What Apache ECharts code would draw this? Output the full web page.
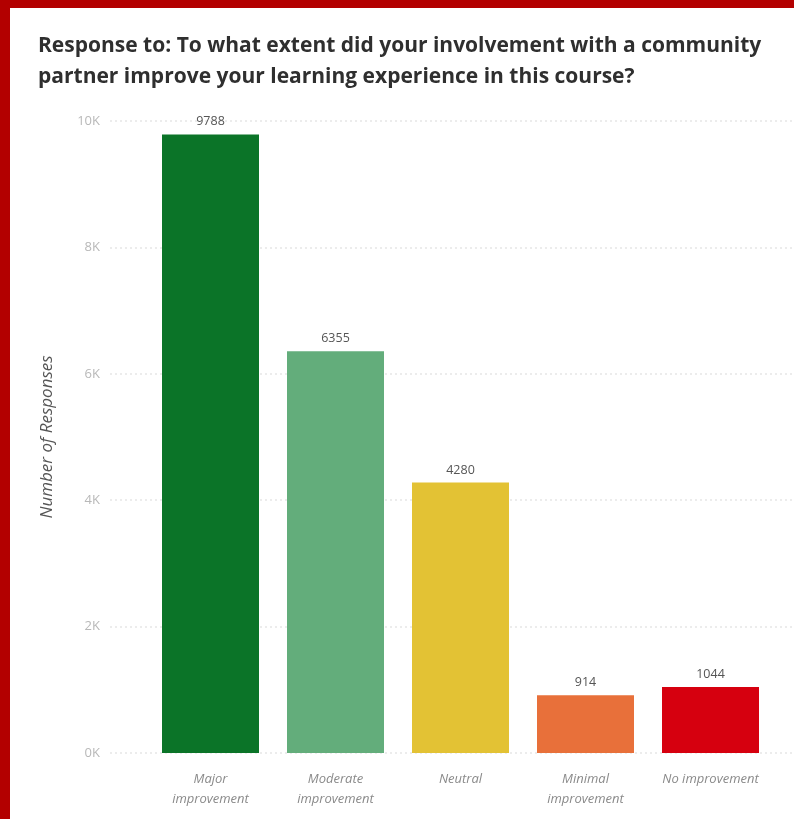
<!DOCTYPE html>
<html>
<head>
<meta charset="utf-8">
<script src="https://cdn.jsdelivr.net/npm/echarts@6/dist/echarts.min.js"></script>
<style>
  html, body { margin: 0; padding: 0; background: #ffffff; }
  #chart { width: 794px; height: 819px; }
</style>
</head>
<body>
<div id="chart"></div>
<script>
// Survey responses per improvement level
const categories = ['Major\nimprovement', 'Moderate\nimprovement', 'Neutral', 'Minimal\nimprovement', 'No improvement'];
const responses = [9788, 6355, 4280, 914, 1044];
const barColors = ['#0b7428', '#63ad7b', '#e3c234', '#e8703a', '#d6000f'];
const yTicks = [0, 2000, 4000, 6000, 8000, 10000];

const yMin = yTicks[0];
const yMax = yTicks[yTicks.length - 1];
const yStep = yTicks[1] - yTicks[0];

const chart = echarts.init(document.getElementById('chart'), null, { renderer: 'canvas' });

chart.setOption({
  backgroundColor: '#ffffff',
  animation: false,
  title: {
    text: 'Response to: To what extent did your involvement with a community\npartner improve your learning experience in this course?',
    left: 38,
    top: 31,
    padding: 0,
    textStyle: {
      fontFamily: 'Open Sans',
      fontWeight: 'bold',
      fontSize: 21,
      color: '#2f2f2f',
      lineHeight: 31
    }
  },
  graphic: [
    { type: 'rect', shape: { x: 0, y: 0, width: 794, height: 8 }, style: { fill: '#b30000' }, z: 100 },
    { type: 'rect', shape: { x: 0, y: 0, width: 10, height: 819 }, style: { fill: '#b30000' }, z: 100 }
  ],
  grid: [
    // bars
    { left: 148, right: 21, top: 121, bottom: 66 },
    // wide band carrying the dotted gridlines and tick labels
    { left: 110, right: 0, top: 121, bottom: 66 }
  ],
  xAxis: [
    {
      type: 'category',
      gridIndex: 0,
      data: categories,
      axisLine: { show: false },
      axisTick: { show: false },
      axisLabel: {
        interval: 0,
        hideOverlap: false,
        margin: 16,
        fontFamily: 'Open Sans',
        fontStyle: 'italic',
        fontSize: 13,
        lineHeight: 20,
        color: '#8a8a8a'
      }
    },
    { type: 'value', gridIndex: 1, show: false, min: 0, max: 1 }
  ],
  yAxis: [
    {
      type: 'value',
      gridIndex: 0,
      min: yMin,
      max: yMax,
      interval: yStep,
      show: false
    },
    {
      type: 'value',
      gridIndex: 1,
      min: yMin,
      max: yMax,
      interval: yStep,
      name: 'Number of Responses',
      nameLocation: 'middle',
      nameGap: 54,
      nameTextStyle: {
        fontFamily: 'Open Sans',
        fontStyle: 'italic',
        fontSize: 17,
        color: '#555555'
      },
      axisLine: { show: false },
      axisTick: { show: false },
      axisLabel: {
        margin: 10,
        fontFamily: 'Open Sans',
        fontSize: 13,
        color: '#b8b8b8',
        formatter: v => (v / 1000) + 'K'
      },
      splitLine: {
        show: true,
        lineStyle: { color: '#ececec', type: [2, 3], width: 2 }
      }
    }
  ],
  series: [
    {
      type: 'bar',
      xAxisIndex: 0,
      yAxisIndex: 0,
      barCategoryGap: '22.4%',
      data: responses.map((v, i) => ({ value: v, itemStyle: { color: barColors[i] } })),
      label: {
        show: true,
        position: 'top',
        distance: 6,
        fontFamily: 'Open Sans',
        fontSize: 12.5,
        color: '#555555'
      }
    }
  ]
});
</script>
</body>
</html>
